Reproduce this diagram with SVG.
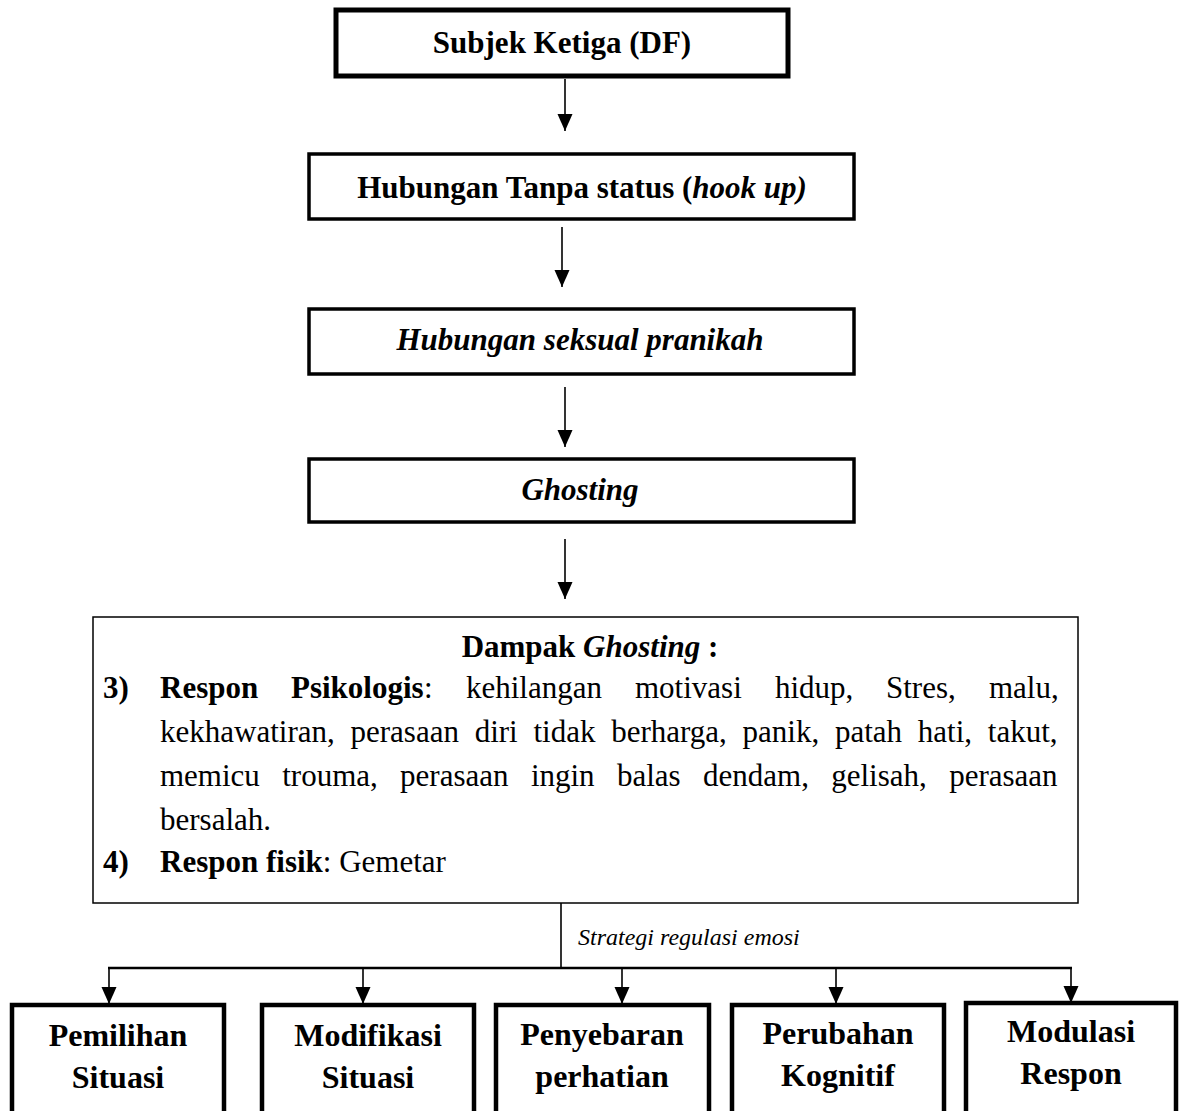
<svg xmlns="http://www.w3.org/2000/svg" width="1180" height="1111" viewBox="0 0 1180 1111">
<style>
text{font-family:"Liberation Serif","Times New Roman",serif;fill:#000}
.t{font-size:31px}
.bt{font-size:32px;font-weight:bold;text-anchor:middle}
.b{font-weight:bold}
.i{font-style:italic}
.c{text-anchor:middle}
.box{fill:#fff;stroke:#000;stroke-width:3.5}
.thick{fill:#fff;stroke:#000;stroke-width:5}
.thin{fill:#fff;stroke:#000;stroke-width:1.5}
.bot{fill:#fff;stroke:#000;stroke-width:4.5}
.ln{stroke:#000;stroke-width:1.6;fill:none}
.ln2{stroke:#000;stroke-width:2.4;fill:none}
</style>
<defs>
<marker id="ah" markerUnits="userSpaceOnUse" markerWidth="17" markerHeight="16" refX="17" refY="8" orient="auto" viewBox="0 0 17 16">
<path d="M0,0.5 L17,8 L0,15.5 z" fill="#000"/>
</marker>
</defs>

<g id="connectors">
<line class="ln" x1="565" y1="79" x2="565" y2="131" marker-end="url(#ah)"/>
<line class="ln" x1="562" y1="227" x2="562" y2="287" marker-end="url(#ah)"/>
<line class="ln" x1="565" y1="387" x2="565" y2="447" marker-end="url(#ah)"/>
<line class="ln" x1="565" y1="539" x2="565" y2="599" marker-end="url(#ah)"/>
<line class="ln" x1="561" y1="903" x2="561" y2="968"/>
<line class="ln2" x1="108" y1="968" x2="1072" y2="968"/>
<line class="ln" x1="109" y1="968" x2="109" y2="1004" marker-end="url(#ah)"/>
<line class="ln" x1="363" y1="968" x2="363" y2="1004" marker-end="url(#ah)"/>
<line class="ln" x1="622" y1="968" x2="622" y2="1004" marker-end="url(#ah)"/>
<line class="ln" x1="836" y1="968" x2="836" y2="1004" marker-end="url(#ah)"/>
<line class="ln" x1="1071" y1="968" x2="1071" y2="1003" marker-end="url(#ah)"/>
<text class="i" x="578" y="945" font-size="24">Strategi regulasi emosi</text>
</g>

<g id="node-subjek">
<rect class="thick" x="336" y="10" width="452" height="66"/>
<text class="t b c" x="562" y="53">Subjek Ketiga (DF)</text>
</g>

<g id="node-hubungan">
<rect class="box" x="309" y="154" width="545" height="65"/>
<text class="t b c" x="582" y="198">Hubungan Tanpa status (<tspan class="i">hook up)</tspan></text>
</g>

<g id="node-seksual">
<rect class="box" x="309" y="309" width="545" height="65"/>
<text class="t b i c" x="580" y="350">Hubungan seksual pranikah</text>
</g>

<g id="node-ghosting">
<rect class="box" x="309" y="459" width="545" height="63"/>
<text class="t b i c" x="580" y="500">Ghosting</text>
</g>

<g id="node-dampak">
<rect class="thin" x="93" y="617" width="985" height="286"/>
<text class="t b c" x="590" y="657">Dampak <tspan class="i">Ghosting</tspan> :</text>
<text class="t b" x="103" y="698">3)</text>
<text class="t" y="698"><tspan class="b" x="160">Respon</tspan><tspan class="b" x="291">Psikologis</tspan><tspan x="424">:</tspan><tspan x="466">kehilangan</tspan><tspan x="635">motivasi</tspan><tspan x="775">hidup,</tspan><tspan x="886">Stres,</tspan><tspan x="989">malu,</tspan></text>
<text class="t" x="160" y="742" word-spacing="8">kekhawatiran, perasaan diri tidak berharga, panik, patah hati, takut,</text>
<text class="t" x="160" y="786" word-spacing="14.6">memicu trouma, perasaan ingin balas dendam, gelisah, perasaan</text>
<text class="t" x="160" y="830">bersalah.</text>
<text class="t b" x="103" y="872">4)</text>
<text class="t" x="160" y="872"><tspan class="b">Respon fisik</tspan>: Gemetar</text>
</g>

<g id="node-pemilihan">
<rect class="bot" x="12" y="1005" width="212" height="120"/>
<text class="bt" x="118" y="1046">Pemilihan</text>
<text class="bt" x="118" y="1088">Situasi</text>
</g>

<g id="node-modifikasi">
<rect class="bot" x="262" y="1005" width="212" height="120"/>
<text class="bt" x="368" y="1046">Modifikasi</text>
<text class="bt" x="368" y="1088">Situasi</text>
</g>

<g id="node-penyebaran">
<rect class="bot" x="496" y="1005" width="213" height="120"/>
<text class="bt" x="602" y="1045">Penyebaran</text>
<text class="bt" x="602" y="1087">perhatian</text>
</g>

<g id="node-perubahan">
<rect class="bot" x="732" y="1005" width="212" height="120"/>
<text class="bt" x="838" y="1044">Perubahan</text>
<text class="bt" x="838" y="1086">Kognitif</text>
</g>

<g id="node-modulasi">
<rect class="bot" x="966" y="1003" width="210" height="120"/>
<text class="bt" x="1071" y="1042">Modulasi</text>
<text class="bt" x="1071" y="1084">Respon</text>
</g>
</svg>
